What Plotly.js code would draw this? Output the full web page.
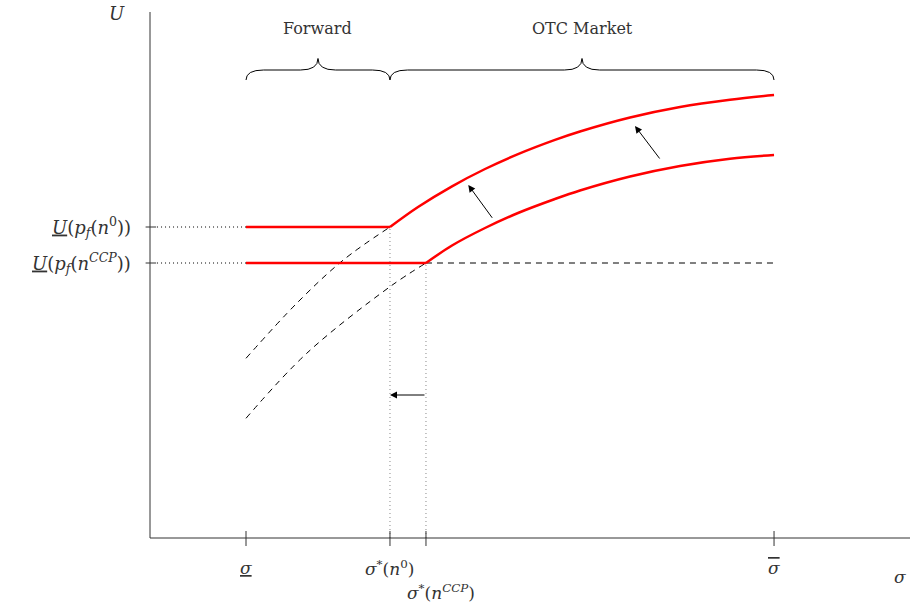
<!DOCTYPE html>
<html>
<head>
<meta charset="utf-8">
<script src="https://cdn.plot.ly/plotly-3.0.1.min.js"></script>
<style>html,body{margin:0;padding:0;background:#fff;}#chart{width:912px;height:611px;}</style>
</head>
<body>
<div id="chart"></div>
<script>
// ---- data (arbitrary units) ----
const sigmaTicks = [1.0, 2.636, 3.045, 7.0];
const sigmaTickLabels = [
  '<u><i>σ</i></u>',
  '<i>σ</i><sup>*</sup>(<i>n</i><sup>0</sup>)',
  '<i>σ</i><sup>*</sup>(<i>n</i><sup><i>CCP</i></sup>)',
  '<span style="text-decoration:overline"><i>σ</i></span>'
];
const uLevels = [6.22, 5.50];
const uLevelLabels = [
  '<u><i>U</i></u>(<i>p</i><sub><i>f</i></sub>(<i>n</i><sup>0</sup>))',
  '<u><i>U</i></u>(<i>p</i><sub><i>f</i></sub>(<i>n</i><sup><i>CCP</i></sup>))'
];
// U curve for n^0
const upperX = [1.0, 1.576, 2.106, 2.636, 2.955, 3.341, 3.716, 4.091, 4.511, 4.795, 5.364, 5.932, 6.5, 7.0];
const upperU = [3.594, 4.694, 5.56, 6.22, 6.62, 7.034, 7.38, 7.677, 7.962, 8.13, 8.41, 8.62, 8.765, 8.86];
// U curve for n^CCP
const lowerX = [1.0, 1.69, 2.636, 3.045, 3.341, 3.716, 4.091, 4.511, 4.795, 5.364, 5.932, 6.5, 7.0];
const lowerU = [2.394, 3.694, 5.026, 5.50, 5.85, 6.20, 6.50, 6.78, 6.95, 7.23, 7.44, 7.586, 7.66];
// regions
const regionNames = ['Forward', 'OTC Market'];
const regionBounds = [[1.0, 2.636], [2.636, 7.0]];

// ---- layout helpers ----
const xMin = -0.0909, xMax = 8.545, yMin = 0, yMax = 10.52;
const kinkUp = sigmaTicks[1], kinkLo = sigmaTicks[2];
const PX = x => (x - xMin) / (xMax - xMin);
const PY = u => (u - yMin) / (yMax - yMin);

function part(xs, ys, cond) {
  const px = [], py = [];
  xs.forEach((x, i) => { if (cond(x)) { px.push(x); py.push(ys[i]); } });
  return [px, py];
}
const [upDashX, upDashU] = part(upperX, upperU, x => x <= kinkUp + 1e-9);
const [upSolX, upSolU] = part(upperX, upperU, x => x >= kinkUp - 1e-9);
const [loDashX, loDashU] = part(lowerX, lowerU, x => x <= kinkLo + 1e-9);
const [loSolX, loSolU] = part(lowerX, lowerU, x => x >= kinkLo - 1e-9);

const red = '#ff0000';
const dashed = {color: '#000', width: 1, dash: '6px,5px'};
const traces = [
  {x: upDashX, y: upDashU, mode: 'lines', line: Object.assign({shape: 'spline'}, dashed)},
  {x: loDashX, y: loDashU, mode: 'lines', line: Object.assign({shape: 'spline'}, dashed)},
  {x: [kinkLo, sigmaTicks[3]], y: [uLevels[1], uLevels[1]], mode: 'lines', line: dashed},
  {x: [sigmaTicks[0], kinkUp], y: [uLevels[0], uLevels[0]], mode: 'lines', line: {color: red, width: 2.5}},
  {x: [sigmaTicks[0], kinkLo], y: [uLevels[1], uLevels[1]], mode: 'lines', line: {color: red, width: 2.5}},
  {x: upSolX, y: upSolU, mode: 'lines', line: {color: red, width: 2.5, shape: 'spline', smoothing: 1}},
  {x: loSolX, y: loSolU, mode: 'lines', line: {color: red, width: 2.5, shape: 'spline', smoothing: 1}}
];

const shapes = [];
const axisLine = {color: '#333', width: 1};
// dotted guides
uLevels.forEach(u => shapes.push({type: 'line', xref: 'x', yref: 'y', x0: xMin + 0.08, x1: sigmaTicks[0], y0: u, y1: u,
  line: {color: '#000', width: 1, dash: '1px,3px'}}));
shapes.push({type: 'line', xref: 'x', yref: 'y', x0: kinkUp, x1: kinkUp, y0: 0, y1: uLevels[0], line: {color: '#888', width: 1, dash: '1px,3px'}});
shapes.push({type: 'line', xref: 'x', yref: 'y', x0: kinkLo, x1: kinkLo, y0: 0, y1: uLevels[1], line: {color: '#888', width: 1, dash: '1px,3px'}});
// axes
shapes.push({type: 'line', xref: 'paper', yref: 'paper', x0: 0, x1: 1, y0: 0, y1: 0, line: axisLine});
shapes.push({type: 'line', xref: 'paper', yref: 'paper', x0: 0, x1: 0, y0: 0, y1: 1, line: axisLine});
// tick marks crossing the axes
sigmaTicks.forEach(s => shapes.push({type: 'line', xref: 'paper', yref: 'paper', x0: PX(s), x1: PX(s), y0: PY(-0.16), y1: PY(0.14), line: axisLine}));
uLevels.forEach(u => shapes.push({type: 'line', xref: 'paper', yref: 'paper', x0: PX(xMin - 0.05), x1: PX(xMin + 0.07), y0: PY(u), y1: PY(u), line: axisLine}));
// braces
function brace(a, b, yb) {
  const m = (a + b) / 2, r = 0.2, h1 = 0.2, h2 = 0.23;
  return `M${a},${yb} Q${a},${yb + h1} ${a + r},${yb + h1} L${m - r},${yb + h1} Q${m},${yb + h1} ${m},${yb + h1 + h2} ` +
         `M${m},${yb + h1 + h2} Q${m},${yb + h1} ${m + r},${yb + h1} L${b - r},${yb + h1} Q${b},${yb + h1} ${b},${yb}`;
}
regionBounds.forEach(([a, b]) => shapes.push({type: 'path', xref: 'x', yref: 'y', path: brace(a, b, 9.16), line: {color: '#000', width: 1}}));

const serif = 'DejaVu Serif, Liberation Serif, serif';
const txt = '#333';
const fs = 17;
const annotations = [];
sigmaTicks.forEach((s, i) => {
  const low = i === 2;
  annotations.push({x: PX(low ? s + 0.17 : s), y: PY(low ? -1.08 : -0.6), xref: 'paper', yref: 'paper', text: sigmaTickLabels[i], showarrow: false,
    font: {family: serif, size: fs, color: txt}, xanchor: 'center', yanchor: 'middle'});
});
uLevels.forEach((u, i) => annotations.push({x: PX(-0.284), y: PY(u), xref: 'paper', yref: 'paper', text: uLevelLabels[i], showarrow: false,
  font: {family: serif, size: 18, color: txt}, xanchor: 'right', yanchor: 'middle'}));
regionNames.forEach((n, i) => annotations.push({x: (regionBounds[i][0] + regionBounds[i][1]) / 2, y: 10.2, xref: 'x', yref: 'y',
  text: n, showarrow: false, font: {family: serif, size: 16, color: txt}, xanchor: 'center', yanchor: 'middle'}));
annotations.push({x: PX(-0.466), y: PY(10.48), xref: 'paper', yref: 'paper', text: '<i>U</i>', showarrow: false,
  xanchor: 'center', yanchor: 'middle', font: {family: serif, size: 18, color: txt}});
annotations.push({x: PX(8.43), y: PY(-0.78), xref: 'paper', yref: 'paper', text: '<i>σ</i>', showarrow: false,
  xanchor: 'center', yanchor: 'middle', font: {family: serif, size: fs, color: txt}});
// arrows
const arrowTails = [[3.81, 6.374], [5.713, 7.56], [kinkLo, 2.86]];
const arrowHeads = [[3.526, 7.06], [5.42, 8.24], [kinkUp, 2.86]];
arrowHeads.forEach((h, i) => annotations.push({x: h[0], y: h[1], ax: arrowTails[i][0], ay: arrowTails[i][1], xref: 'x', yref: 'y',
  axref: 'x', ayref: 'y', text: '', showarrow: true, arrowhead: 2, arrowsize: 1.4, arrowwidth: 1, arrowcolor: '#000', standoff: 0}));

const layout = {
  width: 912, height: 611,
  margin: {l: 150, r: 2, t: 12, b: 73},
  paper_bgcolor: '#fff', plot_bgcolor: '#fff',
  showlegend: false,
  xaxis: {range: [xMin, xMax], showgrid: false, zeroline: false, showline: false, showticklabels: false, ticks: ''},
  yaxis: {range: [yMin, yMax], showgrid: false, zeroline: false, showline: false, showticklabels: false, ticks: ''},
  shapes: shapes,
  annotations: annotations
};
Plotly.newPlot('chart', traces, layout, {displayModeBar: false, staticPlot: true});
</script>
</body>
</html>
